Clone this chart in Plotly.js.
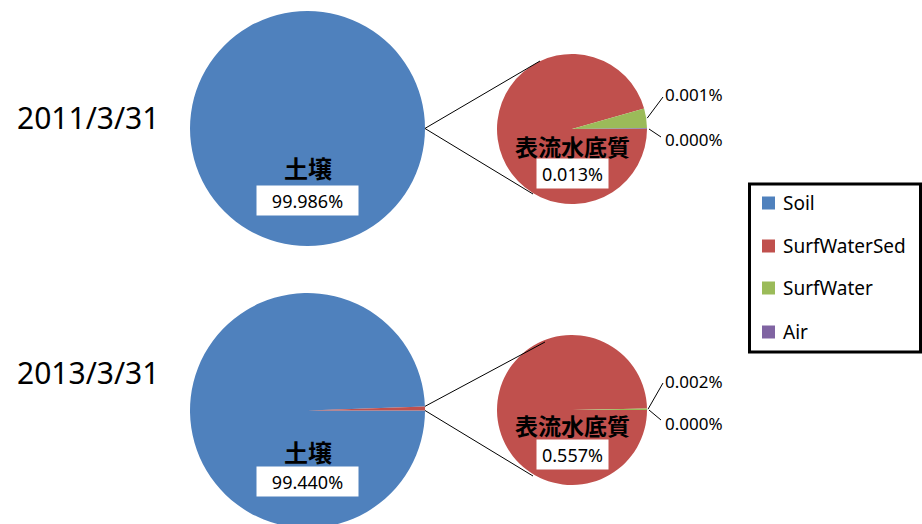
<!DOCTYPE html>
<html>
<head>
<meta charset="utf-8">
<script src="https://cdn.plot.ly/plotly-3.0.1.min.js"></script>
<style>
  html, body { margin: 0; padding: 0; overflow: hidden; background: #fff; }
  #chart { width: 922px; height: 530px; }
</style>
</head>
<body>
<div id="chart"></div>
<script>
// Share of the substance held in each compartment (%), one entry per date
const dates = ['2011/3/31', '2013/3/31'];
const components = ['Soil', 'SurfWaterSed', 'SurfWater', 'Air'];
const soil = [99.986, 99.440];
const surfWaterSed = [0.0134, 0.557];
const surfWater = [0.0006, 0.0018];
const air = [0.00002, 0.00003];
const soilName = '土壌';
const sedName = '表流水底質';
const colors = ['#4F81BD', '#C0504D', '#9BBB59', '#8064A2'];

// Page geometry (pixels)
const W = 922, H = 530;
const fx = x => x / W;
const fy = y => 1 - y / H;
const big = { cx: 307.5, r: 117.5, cy: [128.5, 410.5] };
const small = { cx: 572, r: 75, cy: [129, 410] };
const dateY = [117, 372];
const LBL = 'Noto Sans, DejaVu Sans, sans-serif';
const CJK = 'Noto Sans CJK JP, sans-serif';

const traces = [];
const shapes = [];
const annotations = [];

function domainOf(cx, cy, r) {
  return { x: [fx(cx - r), fx(cx + r)], y: [fy(cy + r), fy(cy - r)] };
}
function line(x0, y0, x1, y1, w) {
  shapes.push({ type: 'line', xref: 'paper', yref: 'paper',
    x0: fx(x0), y0: fy(y0), x1: fx(x1), y1: fy(y1),
    line: { color: '#000', width: w || 1 } });
}
function text(t, x, y, size, opts) {
  annotations.push(Object.assign({
    text: t, xref: 'paper', yref: 'paper', x: fx(x), y: fy(y),
    xanchor: 'center', yanchor: 'middle', showarrow: false,
    font: { family: LBL, size: size, color: '#000' }
  }, opts || {}));
}
const pct = v => v.toFixed(3) + '%';

dates.forEach((d, i) => {
  const bigVals = [soil[i], surfWaterSed[i], surfWater[i], air[i]];
  const smallVals = [surfWaterSed[i], surfWater[i], air[i]];

  // Main pie: soil plus the small compartments, which are broken out on the right
  traces.push({
    type: 'pie', labels: components, values: bigVals, sort: false,
    direction: 'clockwise', rotation: 90, textinfo: 'none', hoverinfo: 'label+percent',
    marker: { colors: colors, line: { width: 0 } }, showlegend: false,
    domain: domainOf(big.cx, big.cy[i], big.r)
  });
  // Secondary pie: the non-soil compartments only
  traces.push({
    type: 'pie', labels: components.slice(1), values: smallVals, sort: false,
    direction: 'clockwise', rotation: 90, textinfo: 'none', hoverinfo: 'label+percent',
    marker: { colors: colors.slice(1), line: { width: 0 } }, showlegend: false,
    domain: domainOf(small.cx, small.cy[i], small.r)
  });

  // Connector lines from the broken-out wedge to the secondary pie
  const total = bigVals.reduce((a, b) => a + b, 0);
  const otherAng = 2 * Math.PI * (1 - soil[i] / total);
  const bx = big.cx + big.r * Math.cos(otherAng);
  const by = big.cy[i] - big.r * Math.sin(otherAng);
  const ex = big.cx + big.r, ey = big.cy[i];
  const upper = i === 0 ? [540, 61] : [545, 342];
  const lower = i === 0 ? [533, 194] : [533, 476];
  line(bx, by, upper[0], upper[1]);
  line(ex, ey, lower[0], lower[1]);

  // Leader lines for the tiny slices of the secondary pie
  const sTot = smallVals.reduce((a, b) => a + b, 0);
  const airAng = 2 * Math.PI * air[i] / sTot;
  const swMid = airAng + Math.PI * surfWater[i] / sTot;
  const sr = small.r + 1;
  const sy = small.cy[i];
  const swLblY = i === 0 ? 95 : 381;
  const airLblY = i === 0 ? 140 : 423;
  line(small.cx + sr * Math.cos(swMid), sy - sr * Math.sin(swMid), 663, swLblY + 2);
  line(small.cx + sr + 1, sy, 661, airLblY - 3);
  text(pct(surfWater[i]), 663, swLblY, 17, { xanchor: 'left' });
  text(pct(air[i]), 663, airLblY, 17, { xanchor: 'left' });

  // Date caption
  text(d, 88, dateY[i], 30);

  // Category names and value boxes inside the pies
  const soilNameY = i === 0 ? 167.5 : 451;
  const soilBoxY = i === 0 ? 200.5 : 481;
  const sedNameY = i === 0 ? 146 : 425;
  const sedBoxY = i === 0 ? 174 : 454;
  text('<b>' + soilName + '</b>', big.cx, soilNameY, 24, { font: { family: CJK, size: 24, color: '#000' } });
  text(pct(soil[i]), big.cx, soilBoxY, 18, { bgcolor: '#fff', width: 97, height: 25, borderpad: 2 });
  text('<b>' + sedName + '</b>', small.cx, sedNameY, 23, { font: { family: CJK, size: 23, color: '#000' } });
  text(pct(surfWaterSed[i]), 572.5, sedBoxY, 18, { bgcolor: '#fff', width: 67, height: 25, borderpad: 2 });
});

// Legend box
shapes.push({ type: 'rect', xref: 'paper', yref: 'paper',
  x0: fx(749.5), x1: fx(920.5), y0: fy(352), y1: fy(184),
  line: { color: '#000', width: 3 }, fillcolor: 'rgba(0,0,0,0)' });
const legendY = [203, 246, 288, 332];
components.forEach((c, k) => {
  shapes.push({ type: 'rect', xref: 'paper', yref: 'paper',
    x0: fx(762), x1: fx(775), y0: fy(legendY[k] + 6.5), y1: fy(legendY[k] - 6.5),
    line: { width: 0 }, fillcolor: colors[k] });
  text(c, 781, legendY[k], 19, { xanchor: 'left' });
});

const layout = {
  width: W, height: H,
  margin: { l: 0, r: 0, t: 0, b: 0 },
  paper_bgcolor: '#fff', plot_bgcolor: '#fff',
  showlegend: false,
  shapes: shapes,
  annotations: annotations
};

Plotly.newPlot('chart', traces, layout, { staticPlot: true });
</script>
</body>
</html>
